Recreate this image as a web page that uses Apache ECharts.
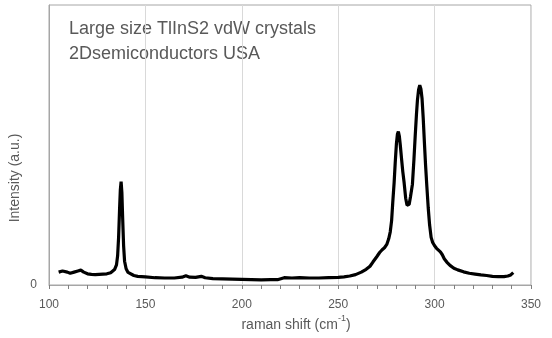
<!DOCTYPE html>
<html>
<head>
<meta charset="utf-8">
<script src="https://cdn.jsdelivr.net/npm/echarts@6/dist/echarts.min.js"></script>
<style>html,body{margin:0;padding:0;background:#fff}#c{width:552px;height:338px}</style>
</head>
<body>
<div id="c"></div>
<script>
// Raman shift (cm-1) and intensity (a.u., % of plot height)
const ramanShift = [105,107,108,109.5,111,113,115,116.5,118,120,122,124,126,128,130,132,133,134,135,135.6,136.1,136.6,137.0,137.4,137.8,138.2,138.7,139.2,140,141,142,144,146,150,155,160,165,169,171,173,176,179,181,185,190,195,200,205,210,215,218.5,219.5,222,226,230,235,240,245,250,253,256,259,262,264.5,266.5,268,270,271.5,272.8,274,275.2,276.2,277,277.7,278.3,279,279.6,280.2,280.7,281.2,281.7,282.2,282.8,283.5,284.2,285,285.7,286.2,286.8,287.5,288.5,289.3,290,290.6,291.1,291.7,292.3,292.9,293.5,294.1,294.7,295.3,296,296.7,297.4,298.2,299,300,301,302,303,304,305,306.3,308,310,312,315,318,321,324,327,330,333,336,338,339.5,340.8];
const intensity = [4.6,5.0,5.2,4.6,4.2,4.6,5.0,5.3,4.6,4.0,3.8,3.7,3.8,3.9,4.0,4.4,4.9,5.5,7.2,10.5,17,27,34,36.9,33,24,14,8.5,5.8,4.5,3.9,3.4,3.1,2.9,2.6,2.5,2.5,2.8,3.3,2.8,2.7,3.1,2.6,2.3,2.2,2.1,2.0,1.9,1.8,1.9,1.9,2.6,2.6,2.5,2.6,2.5,2.5,2.6,2.7,2.9,3.2,3.7,4.6,5.6,6.7,8.2,10.1,11.6,12.6,13.3,14.5,16.5,19,23,29.5,36.5,44,50.5,53.8,54.8,53.2,50,45.5,40.5,36.5,31,28.5,28,28.8,31.5,36,45,54,61,66,69.8,71.4,70,66.5,59.5,51,43,35,27.5,21.5,17,15.2,14,13.1,12.5,11.8,10.8,9.4,8.2,7.0,6.0,5.4,4.7,4.2,3.9,3.6,3.4,3.1,3.0,3.0,3.2,3.6,4.4];
const xTicks = [100,150,200,250,300,350];
const titleLines = ['Large size TlInS2 vdW crystals','2Dsemiconductors USA'];
const xName = 'raman shift (cm';
const xNameSup = '-1';
const yName = 'Intensity (a.u.)';

const FONT = 'Liberation Sans';
const GRAY = '#595959';
const chart = echarts.init(document.getElementById('c'), null, {renderer:'canvas'});
chart.setOption({
  animation:false,
  backgroundColor:'#fff',
  grid:{left:49,right:21,top:5,bottom:53,show:true,borderColor:'#a6a6a6',borderWidth:1,containLabel:false},
  xAxis:[{type:'value',min:xTicks[0],max:xTicks[xTicks.length-1],interval:10,
    axisLine:{show:true,onZero:false,lineStyle:{color:'#a6a6a6',width:1}},
    axisTick:{show:true,inside:false,length:4,lineStyle:{color:'#7f7f7f',width:1}},
    splitLine:{show:false},
    axisLabel:{color:GRAY,fontSize:12,fontFamily:FONT,margin:14,hideOverlap:false,interval:0,
      formatter:v=>xTicks.indexOf(v)>=0?String(v):''}
  },{type:'value',position:'bottom',min:xTicks[0],max:xTicks[xTicks.length-1],interval:50,
    axisLine:{show:false,onZero:false},axisTick:{show:false},axisLabel:{show:false},
    splitLine:{show:true,lineStyle:{color:'#d9d9d9',width:1}}
  }],
  yAxis:{type:'value',min:0,max:100,interval:100,
    axisLine:{show:true,lineStyle:{color:'#a6a6a6',width:1}},
    axisTick:{show:false},splitLine:{show:false},
    axisLabel:{color:GRAY,fontSize:12,fontFamily:FONT,margin:12,formatter:v=>v===0?'0':''}
  },
  graphic:[
    {type:'text',left:69,top:20,style:{text:titleLines[0],fill:GRAY,font:'18px "'+FONT+'"'}},
    {type:'text',left:69,top:45,style:{text:titleLines[1],fill:GRAY,font:'18px "'+FONT+'"'}},
    {type:'text',x:296,y:323,style:{text:'{a|'+xName+'}{b|'+xNameSup+'}{a|)}',align:'center',verticalAlign:'middle',
      rich:{a:{fontSize:14,fontFamily:FONT,fill:GRAY,color:GRAY,lineHeight:18,verticalAlign:'bottom'},
            b:{fontSize:9,fontFamily:FONT,fill:GRAY,color:GRAY,lineHeight:18,verticalAlign:'top'}}}},
    {type:'text',x:15,y:178,rotation:Math.PI/2,style:{text:yName,fill:GRAY,align:'center',verticalAlign:'middle',font:'14px "'+FONT+'"'}}
  ],
  series:[{type:'line',xAxisIndex:0,data:ramanShift.map((x,i)=>[x,intensity[i]]),showSymbol:false,
    lineStyle:{color:'#000',width:3.2},smooth:false,clip:true}]
});
</script>
</body>
</html>
